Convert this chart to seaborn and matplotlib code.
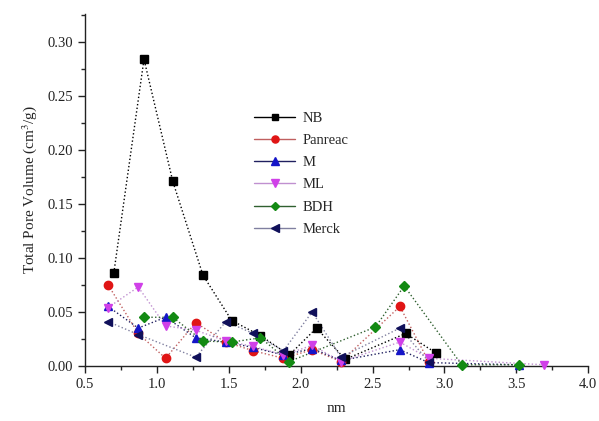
import matplotlib
matplotlib.use("Agg")
import matplotlib.pyplot as plt
import seaborn as sns
import numpy as np
from matplotlib.lines import Line2D
from matplotlib.ticker import MultipleLocator, FormatStrFormatter

sns.set_style("ticks")
plt.rcParams['font.family'] = ['Liberation Serif', 'DejaVu Serif']
plt.rcParams['mathtext.fontset'] = 'stix'

NB_x = [0.70, 0.91, 1.11, 1.32, 1.52, 1.72, 1.92, 2.11, 2.31, 2.73, 2.94]
NB_y = [0.086, 0.284, 0.171, 0.084, 0.042, 0.028, 0.010, 0.035, 0.006, 0.030, 0.012]
Panreac_x = [0.66, 0.87, 1.06, 1.27, 1.48, 1.67, 1.88, 2.08, 2.28, 2.69, 2.89]
Panreac_y = [0.075, 0.030, 0.007, 0.040, 0.022, 0.014, 0.007, 0.015, 0.004, 0.055, 0.004]
M_x = [0.66, 0.87, 1.06, 1.27, 1.48, 1.67, 1.88, 2.08, 2.28, 2.69, 2.89, 3.52]
M_y = [0.055, 0.035, 0.045, 0.026, 0.022, 0.017, 0.010, 0.016, 0.005, 0.015, 0.003, 0.001]
ML_x = [0.66, 0.87, 1.06, 1.27, 1.48, 1.67, 1.88, 2.08, 2.28, 2.69, 2.89, 3.69]
ML_y = [0.054, 0.073, 0.037, 0.033, 0.023, 0.018, 0.010, 0.019, 0.004, 0.022, 0.007, 0.001]
BDH_x = [0.91, 1.11, 1.32, 1.52, 1.72, 1.92, 2.52, 2.72, 3.12, 3.52]
BDH_y = [0.045, 0.045, 0.023, 0.022, 0.026, 0.004, 0.036, 0.074, 0.001, 0.001]
Merck_x = [0.66, 0.87, 1.27, 1.48, 1.67, 1.88, 2.08, 2.28, 2.69, 2.89]
Merck_y = [0.041, 0.029, 0.008, 0.041, 0.030, 0.014, 0.050, 0.008, 0.035, 0.004]

series = [
    ("NB", NB_x, NB_y, "s", "#000000", "#000000"),
    ("Panreac", Panreac_x, Panreac_y, "o", "#e01515", "#c06060"),
    ("M", M_x, M_y, "^", "#1515c8", "#202060"),
    ("ML", ML_x, ML_y, "v", "#d040e8", "#c090d0"),
    ("BDH", BDH_x, BDH_y, "D", "#138a13", "#306030"),
    ("Merck", Merck_x, Merck_y, "<", "#10105a", "#8080a0"),
]

fig = plt.figure(figsize=(5.99, 4.21), dpi=100)
ax = fig.add_axes([0.142, 0.131, 0.840, 0.836])

handles = []
for name, xs, ys, mk, col, lcol in series:
    ms = 5.0 if mk == "D" else 6.0
    if mk == "s":
        ms = 5.5
    sns.lineplot(x=xs, y=ys, ax=ax, sort=False, color=lcol, linestyle=":",
                 linewidth=1.0, legend=False)
    ax.plot(xs, ys, linestyle="none", marker=mk, markersize=ms, color=col,
            markeredgecolor=col, clip_on=False, zorder=3)
    handles.append(Line2D([0], [0], color=lcol, lw=1.0, marker=mk,
                          markersize=ms * 0.85, markerfacecolor=col, markeredgecolor=col))

ax.set_xlim(0.5, 4.0)
ax.set_ylim(0, 0.326)
ax.xaxis.set_major_locator(MultipleLocator(0.5))
ax.xaxis.set_minor_locator(MultipleLocator(0.25))
ax.yaxis.set_major_locator(MultipleLocator(0.05))
ax.yaxis.set_minor_locator(MultipleLocator(0.025))
ax.xaxis.set_major_formatter(FormatStrFormatter("%.1f"))
ax.yaxis.set_major_formatter(FormatStrFormatter("%.2f"))
ax.tick_params(which="major", direction="out", length=5, width=1, labelsize=10.5, colors="#222222")
ax.tick_params(which="minor", direction="out", length=3, width=1)
for s in ["top", "right"]:
    ax.spines[s].set_visible(False)
for s in ["left", "bottom"]:
    ax.spines[s].set_color("#222222")
    ax.spines[s].set_linewidth(1.0)

ax.set_xlabel("nm", fontsize=11, labelpad=8)
ax.set_ylabel("Total Pore Volume (cm$^3$/g)", fontsize=11, labelpad=6)

ax.legend(handles, [s[0] for s in series], loc="upper left",
          bbox_to_anchor=(0.31, 0.76), frameon=False, fontsize=10.5,
          handlelength=2.8, labelspacing=0.62, handletextpad=0.5)

fig.savefig("out.png", dpi=100)
